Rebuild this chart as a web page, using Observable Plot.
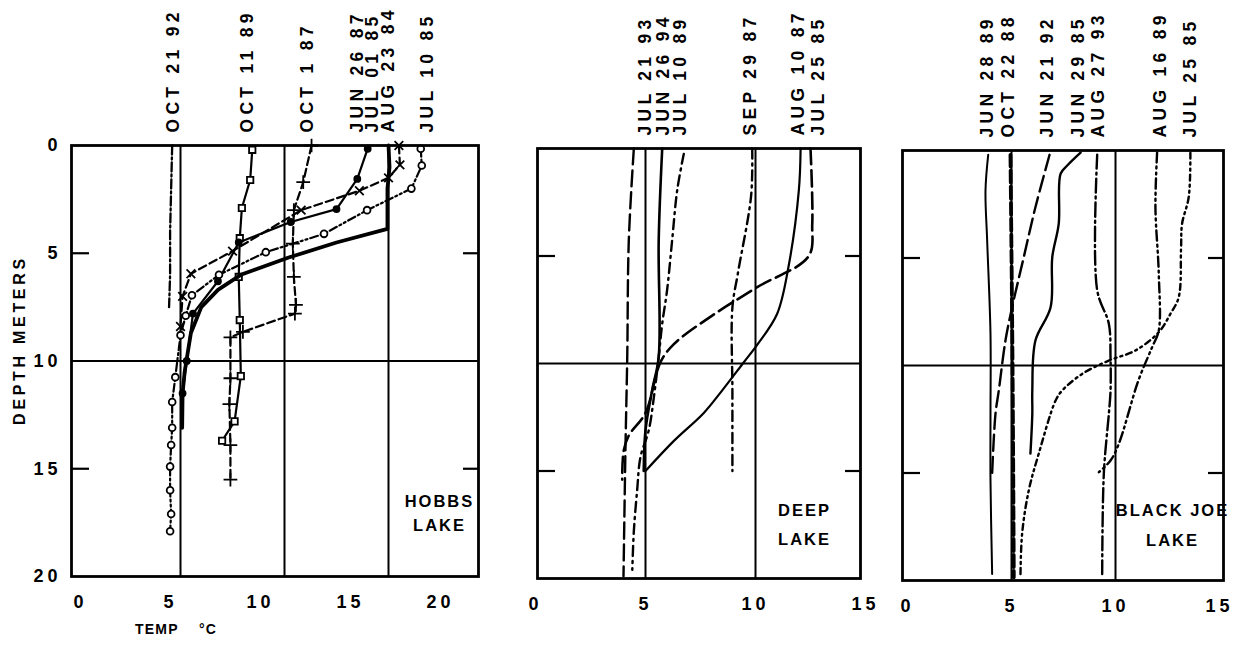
<!DOCTYPE html>
<html><head><meta charset="utf-8">
<script src="https://cdn.jsdelivr.net/npm/d3@7"></script>
<script src="https://cdn.jsdelivr.net/npm/@observablehq/plot@0.6"></script>
<style>
html,body{margin:0;padding:0;background:#fff;}
#root{position:relative;width:1242px;height:648px;overflow:hidden;background:#fff;font-family:"Liberation Sans",Arial,sans-serif;font-weight:bold;color:#000;}
.panel{position:absolute;top:0;}
.panel svg{overflow:visible;}
g[font-size="17.5"] text{letter-spacing:4.3px;}
g[font-size="18"] text{letter-spacing:4px;}
g[font-size="16.5"] text{letter-spacing:2px;}
#ylab{position:absolute;left:20px;top:340px;transform:translate(-50%,-50%) rotate(-90deg);font-size:16px;letter-spacing:3.7px;white-space:nowrap;}
#xlab{position:absolute;left:135px;top:621px;font-size:14px;letter-spacing:1.2px;white-space:nowrap;}
</style></head>
<body><div id="root">
<div id="p1" class="panel" style="left:0;width:510px"></div>
<div id="p1ax" class="panel" style="left:0;width:510px"></div>
<div id="p2" class="panel" style="left:510px;width:370px"></div>
<div id="p3" class="panel" style="left:880px;width:362px"></div>
<div id="ylab">DEPTH METERS</div>
<div id="xlab">TEMP&nbsp;&nbsp;&nbsp;&nbsp;°C</div>
</div>
<script>
// ---------- shared ticks ----------
const depthTicks = [0, 5, 10, 15, 20];
const depthMinorTicks = [5, 15];
const hobbsTempTicks = [0, 5, 10, 15, 20];
const deepTempTicks = [0, 5, 10, 15];
const blackJoeTempTicks = [0, 5, 10, 15];

// ---------- HOBBS LAKE  ([temp °C, depth m]) ----------
const hobbsDates = ["OCT 21 92", "OCT 11 89", "OCT 1 87", "JUN 26 87", "JUL 01 85", "AUG 23 84", "JUL 10 85"];
const hobbsDateTemp = [4.66, 8.22, 11.11, 13.51, 14.23, 15.0, 16.88];
const hobbsOct2192 = [[4.6,0],[4.55,2],[4.5,4],[4.5,6],[4.45,7.5]];
const hobbsOct1189 = [[8.45,0.2],[8.35,1.6],[7.95,2.9],[7.85,4.3],[7.8,6.1],[7.85,8.1],[7.9,10.7],[7.6,12.8],[7.0,13.7]];
const hobbsOct0187 = [[11.3,0],[10.9,1.7],[10.45,3.0],[10.4,4.55],[10.45,6.1],[10.55,7.4],[10.5,7.8],[8.0,8.65],[7.4,8.9],[7.4,10.8],[7.35,12.0],[7.4,13.9],[7.4,15.5]];
const hobbsJun2687 = [[14.0,0.15],[13.5,1.55],[12.5,2.95],[10.3,3.55],[7.8,4.5],[6.8,6.3],[5.6,7.8],[5.3,10.0],[5.1,11.5]];
const hobbsJul0185 = [[15.0,0],[15.05,1.0],[14.95,2.0],[14.95,3.87],[12.5,4.5],[10.2,5.2],[7.9,6.0],[6.8,6.7],[6.0,7.5],[5.5,8.7],[5.2,10.5],[5.1,11.5],[5.08,13.1]];
const hobbsAug2384 = [[15.5,0],[15.55,0.9],[15.0,1.5],[13.6,2.1],[10.8,3.0],[7.5,4.9],[5.5,5.95],[5.1,7.0],[5.0,8.4]];
const hobbsJul1085 = [[16.55,0.15],[16.6,0.93],[16.1,2.0],[13.97,3.0],[11.9,4.1],[9.1,4.95],[6.85,6.0],[5.55,6.95],[5.25,7.9],[5.0,8.8],[4.75,10.75],[4.6,11.9],[4.6,13.1],[4.55,13.9],[4.5,14.9],[4.5,16.0],[4.55,17.1],[4.5,17.9]];
const hobbsCurves = [hobbsOct2192, hobbsOct1189, hobbsOct0187, hobbsJun2687, hobbsJul0185, hobbsAug2384, hobbsJul1085];

// ---------- DEEP LAKE ----------
const deepDates = ["JUL 21 93", "JUN 26 94", "JUL 10 89", "SEP 29 87", "AUG 10 87", "JUL 25 85"];
const deepDateTemp = [5.0, 5.82, 6.59, 9.77, 11.95, 12.86];
const deepJul2193 = [[4.47,0],[4.24,4.3],[4.17,9.7],[4.09,13.9],[4.0,19.9]];
const deepJun2694 = [[5.76,0],[5.6,4.3],[5.6,9.7],[5.3,11.25],[5.0,13.1],[4.92,15.0]];
const deepJul1089 = [[6.74,0.25],[6.44,1.95],[6.21,4.28],[5.98,6.6],[5.76,8.15],[5.6,9.7],[5.38,11.57],[5.15,13.1],[4.77,14.36],[4.62,15.9],[4.47,17.8],[4.4,19.6]];
const deepSep2987 = [[9.85,0],[9.8,2.2],[9.2,5.8],[8.95,7.4],[8.95,11.3],[8.95,15.0]];
const deepAug1087 = [[12.05,0],[11.97,1.95],[11.5,5.5],[10.98,7.7],[10.1,9.1],[9.47,9.94],[8.48,11.26],[7.65,12.3],[6.29,13.6],[5.0,15.0]];
const deepJul2585 = [[12.5,0],[12.58,3.5],[12.42,5.0],[10.08,6.45],[8.03,7.77],[6.29,9.1],[5.68,9.94],[5.0,12.3],[4.24,13.35],[4.01,14.05],[3.94,15.4]];
const deepCurves = [deepJul2193, deepJun2694, deepJul1089, deepSep2987, deepAug1087, deepJul2585];

// ---------- BLACK JOE LAKE ----------
const bjDates = ["JUN 28 89", "OCT 22 88", "JUN 21 92", "JUN 29 85", "AUG 27 93", "AUG 16 89", "JUL 25 85"];
const bjDateTemp = [3.85, 4.86, 6.73, 8.22, 9.18, 12.16, 13.6];
const bjJun2889 = [[3.88,0.2],[3.75,1.86],[3.83,4.19],[3.99,8.53],[3.99,12.25],[3.99,15.35],[4.07,19.7]];
const bjOct2288 = [[4.95,0.2],[5.05,10],[5.11,19.85]];
const bjJun2192 = [[6.83,0.2],[6.15,2.64],[5.59,4.96],[5.03,7.29],[4.71,8.84],[4.39,11.16],[4.23,12.25],[4.07,15.0]];
const bjJun2985 = [[8.32,0.1],[7.68,0.7],[7.36,1.08],[7.27,3.41],[6.96,4.96],[6.88,7.29],[6.15,8.84],[6.0,11.16],[6.0,12.25],[5.91,14.1]];
const bjAug2793 = [[9.12,0.2],[9.12,6.5],[9.68,8.06],[9.76,9.6],[9.76,11.2],[9.68,12.25],[9.44,15.0],[9.36,19.7]];
const bjAug1689 = [[12.0,0.1],[11.92,2.64],[12.08,5.73],[12.08,8.37],[11.76,9.15],[11.1,10.7],[10.16,13.64],[9.76,14.42],[9.2,14.96]];
const bjJul2585 = [[13.6,0.1],[13.52,2.17],[13.2,3.41],[13.15,4.6],[13.04,6.82],[12.64,7.6],[12.08,8.45],[10.96,9.3],[9.68,9.77],[8.4,10.39],[7.44,11.16],[7.12,11.63],[6.31,14.1],[5.83,15.81],[5.51,17.83],[5.43,19.85]];
const bjCurves = [bjJun2889, bjOct2288, bjJun2192, bjJun2985, bjAug2793, bjAug1689, bjJul2585];

// ---------- styles (kept apart from the data) ----------
const hobbsStyles = [
  {dash:"9,3,2,3", width:2.3},
  {width:2.2, symbol:"square", r:3.6},
  {dash:"8,4", width:2.2, symbol:"plus", r:4.5},
  {width:2.2, symbol:"circle", r:3, fill:"black"},
  {width:3.8},
  {dash:"8,4", width:2.2, symbol:"times", r:4},
  {dash:"8,3,2,3,2,3", width:2.2, symbol:"circle", r:3.4}
];
const deepStyles = [
  {dash:"16,6", width:2.4},
  {width:2.6},
  {dash:"10,5,2,5", width:2.4},
  {dash:"10,5,2,5", width:2.4},
  {width:2.2},
  {dash:"16,6", width:2.6}
];
const bjStyles = [
  {width:2},
  {dash:"12,4", width:3.8},
  {dash:"16,6", width:2.4},
  {width:2.4},
  {dash:"14,4,2,4", width:2.4},
  {dash:"10,4,2,4,2,4", width:2.4},
  {dash:"6,4,2,4,2,4", width:2.4}
];

const FONT = "'Liberation Sans', Arial, sans-serif";

function panel(cfg) {
  const marks = [
    Plot.ruleX(cfg.gridT, {stroke:"black", strokeWidth:2}),
    Plot.ruleY([10], {stroke:"black", strokeWidth:2}),
    Plot.axisY({anchor:"left", ticks:depthMinorTicks, tickSize:-18, tickFormat:() => "", strokeWidth:2.2, label:null}),
    Plot.axisY({anchor:"right", ticks:depthMinorTicks, tickSize:-16, tickFormat:() => "", strokeWidth:2.2, label:null})
  ];
  cfg.curves.forEach((pts, i) => {
    const st = cfg.styles[i];
    marks.push(Plot.line(pts, {x:d => d[0], y:d => d[1], stroke:"black", strokeWidth:st.width,
      strokeDasharray:st.dash, curve:cfg.curve, strokeLinecap:"round"}));
    if (st.symbol) marks.push(Plot.dot(pts, {x:d => d[0], y:d => d[1], symbol:st.symbol, r:st.r,
      stroke:"black", fill:st.fill || "white", strokeWidth:1.8}));
  });
  marks.push(Plot.frame({stroke:"black", strokeWidth:2.8}));
  marks.push(Plot.text(cfg.dates, {x:(d, i) => cfg.dateTemp[i], text:d => d, frameAnchor:"top", dy:-13,
    rotate:-90, textAnchor:"start", lineAnchor:"middle", fontSize:17.5, fill:"black"}));
  marks.push(Plot.text([cfg.lake], {frameAnchor:"bottom-right", dx:cfg.lakeDx, dy:cfg.lakeDy,
    textAnchor:"middle", lineAnchor:"middle", lineHeight:cfg.lakeLH, fontSize:16.5, fill:"black"}));
  if (cfg.tempTicks) marks.push(Plot.axisX({ticks:cfg.tempTicks, tickSize:0, tickPadding:18.5, fontSize:18, label:null}));
  if (cfg.depthLabels) marks.push(Plot.axisY({anchor:"left", ticks:depthTicks, tickSize:0, tickPadding:10, fontSize:18, label:null}));
  return Plot.plot({
    width:cfg.width, height:648,
    marginTop:cfg.top, marginBottom:648 - cfg.bottom, marginLeft:cfg.left, marginRight:cfg.width - cfg.right,
    x:{domain:cfg.xDomain, range:cfg.xRange, axis:cfg.tempTicks ? undefined : null},
    y:{domain:[0, 20], reverse:true},
    style:{fontFamily:FONT, fontWeight:"bold", background:"transparent", overflow:"visible", color:"black"},
    marks
  });
}

document.getElementById("p1").append(panel({
  width:510, left:71, right:478, top:145, bottom:576,
  xDomain:[0, 20], xRange:[76, 492], gridT:[5, 10, 15],
  curves:hobbsCurves, styles:hobbsStyles, dates:hobbsDates, dateTemp:hobbsDateTemp,
  curve:"linear", lake:"HOBBS\nLAKE", lakeDx:-39, lakeDy:-65, lakeLH:1.42,
  depthLabels:true
}));

// hand-lettered temperature labels under the Hobbs panel
document.getElementById("p1ax").append(Plot.plot({
  width:510, height:648, marginTop:145, marginBottom:72, marginLeft:71, marginRight:32,
  x:{domain:[0, 20], range:[80, 440]},
  style:{fontFamily:FONT, fontWeight:"bold", background:"transparent", overflow:"visible", color:"black"},
  marks:[Plot.axisX({ticks:hobbsTempTicks, tickSize:0, tickPadding:18.5, fontSize:18, label:null})]
}));

document.getElementById("p2").append(panel({
  width:370, left:27, right:350, top:148, bottom:578,
  xDomain:[0, 15], xRange:[25, 355], gridT:[5, 10],
  curves:deepCurves, styles:deepStyles, dates:deepDates, dateTemp:deepDateTemp,
  curve:"catmull-rom", lake:"DEEP\nLAKE", lakeDx:-56, lakeDy:-57, lakeLH:1.72,
  tempTicks:deepTempTicks
}));

document.getElementById("p3").append(panel({
  width:362, left:22, right:343, top:150, bottom:580,
  xDomain:[0, 15], xRange:[27, 339], gridT:[5, 10],
  curves:bjCurves, styles:bjStyles, dates:bjDates, dateTemp:bjDateTemp,
  curve:"catmull-rom", lake:"BLACK JOE\nLAKE", lakeDx:-51, lakeDy:-59, lakeLH:1.78,
  tempTicks:blackJoeTempTicks
}));
</script>
</body></html>
